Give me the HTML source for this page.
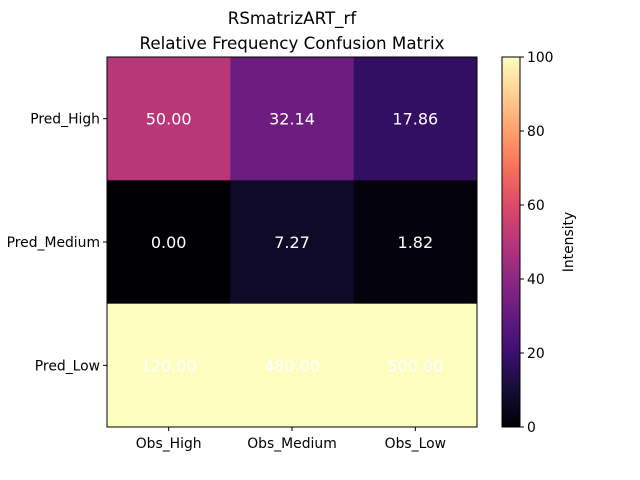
<!DOCTYPE html>
<html><head><meta charset="utf-8"><style>body{margin:0;background:#fff}svg{display:block;font-family:"DejaVu Sans","Liberation Sans",sans-serif}</style></head>
<body>
<svg id="chart" width="640" height="480">
<text x="292" y="24" text-anchor="middle" font-size="16.7">RSmatrizART_rf</text>
<text x="292" y="49" text-anchor="middle" font-size="16.7">Relative Frequency Confusion Matrix</text>
<g id="cells"></g>
<g id="cbar"></g>
</svg>
<script>
const rowLabels = ["Pred_High","Pred_Medium","Pred_Low"];
const colLabels = ["Obs_High","Obs_Medium","Obs_Low"];
const row0 = [50.00, 32.14, 17.86];
const row1 = [0.00, 7.27, 1.82];
const row2 = [120.00, 480.00, 500.00];
const cbTicks = [0,20,40,60,80,100];
const rows=[row0,row1,row2];
const vmin=0,vmax=100;
const stops=["#000004","#140e36","#3b0f70","#641a80","#8c2981","#b73779","#de4968","#f7705c","#fe9f6d","#fecf92","#fcfdbf"];
function hex(h){return [1,3,5].map(i=>parseInt(h.substr(i,2),16));}
function magma(v){let t=Math.max(0,Math.min(1,(v-vmin)/(vmax-vmin)))*10;let i=Math.min(9,Math.floor(t)),f=t-i;const a=hex(stops[i]),b=hex(stops[i+1]);return "rgb("+a.map((x,k)=>Math.round(x+(b[k]-x)*f)).join(",")+")";}
const X0=107,Y0=57,W=370,H=370,cw=W/3,ch=H/3;
const ns="http://www.w3.org/2000/svg";
function mk(tag,attrs,parent){const e=document.createElementNS(ns,tag);for(const k in attrs)e.setAttribute(k,attrs[k]);parent.appendChild(e);return e;}
const g=document.getElementById("cells");
rows.forEach((r,ri)=>r.forEach((v,ci)=>{
  const rc=mk("rect",{x:X0+ci*cw,y:Y0+ri*ch,width:cw+0.5,height:ch+0.5,fill:magma(v)},g);
  
  
  const t=mk("text",{x:X0+(ci+0.5)*cw,y:Y0+(ri+0.5)*ch+6,"text-anchor":"middle","font-size":"16",fill:"#fff"},g);
  t.textContent=v.toFixed(2);
  
  
}));
mk("rect",{x:X0,y:Y0,width:W,height:H,fill:"none",stroke:"#000","stroke-width":1},g);
rowLabels.forEach((l,i)=>{
  const y=Y0+(i+0.5)*ch;
  mk("line",{x1:X0-4,x2:X0,y1:y,y2:y,stroke:"#000"},g);
  const t=mk("text",{x:X0-7,y:y+5,"text-anchor":"end","font-size":"13.9"},g);t.textContent=l;
  
  
});
colLabels.forEach((l,i)=>{
  const x=X0+(i+0.5)*cw;
  mk("line",{x1:x,x2:x,y1:Y0+H,y2:Y0+H+4,stroke:"#000"},g);
  const t=mk("text",{x:x,y:Y0+H+21,"text-anchor":"middle","font-size":"13.9"},g);t.textContent=l;
  
  
});
const cb=document.getElementById("cbar");
const CX=502,CW=18;
const defs=mk("defs",{},cb);
const lg=mk("linearGradient",{id:"mg",x1:0,y1:1,x2:0,y2:0},defs);
stops.forEach((s,i)=>mk("stop",{offset:i/10,"stop-color":s},lg));
const cr=mk("rect",{x:CX,y:Y0,width:CW,height:H,fill:"url(#mg)",stroke:"#000","stroke-width":1},cb);


cbTicks.forEach(v=>{
  const y=Y0+H-(v-vmin)/(vmax-vmin)*H;
  mk("line",{x1:CX+CW,x2:CX+CW+4,y1:y,y2:y,stroke:"#000"},cb);
  const t=mk("text",{x:CX+CW+7,y:y+5,"font-size":"13.9"},cb);t.textContent=v;
  
  
});
const lt=mk("text",{x:573,y:Y0+H/2,"text-anchor":"middle","font-size":"13.9",transform:"rotate(-90 573 "+(Y0+H/2)+")"},cb);
lt.textContent="Intensity";


</script>
</body></html>
